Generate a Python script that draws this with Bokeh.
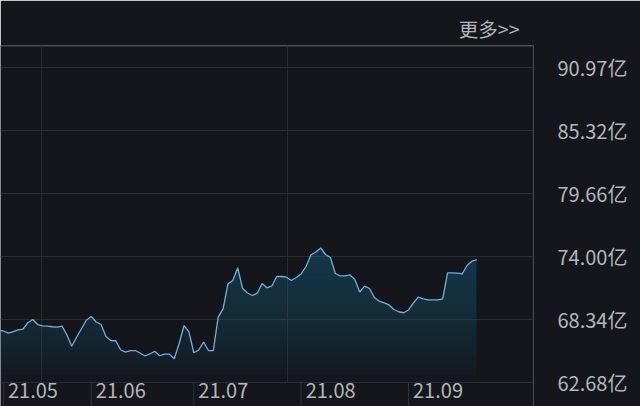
import numpy as np
from bokeh.plotting import figure
from bokeh.models import FixedTicker, Range1d
from bokeh.core.properties import value
from bokeh.embed import file_html
from bokeh.resources import INLINE

# ---- data (trading-day index, value in 亿) ----
values = [
    67.33, 67.29, 67.09, 67.24, 67.38, 67.45, 68.03, 68.32, 67.87, 67.74,
    67.72, 67.67, 67.63, 67.72, 66.93, 65.92, 66.75, 67.51, 68.28, 68.59,
    68.10, 67.87, 66.79, 66.43, 66.41, 65.60, 65.38, 65.53, 65.53, 65.31,
    65.04, 65.22, 65.47, 65.06, 65.20, 65.20, 64.79, 66.16, 67.78, 67.20,
    65.33, 65.58, 66.28, 65.53, 65.53, 68.53, 69.28, 71.53, 71.83, 72.97,
    71.11, 70.71, 70.48, 70.69, 71.56, 71.17, 71.34, 72.19, 72.19, 72.13,
    71.83, 72.10, 72.42, 73.09, 74.13, 74.40, 74.76, 74.17, 73.90, 72.46,
    72.25, 72.24, 72.33, 71.92, 70.80, 71.32, 71.11, 70.30, 69.97, 69.82,
    69.63, 69.22, 69.02, 68.93, 69.18, 69.81, 70.33, 70.17, 70.09, 70.09,
    70.09, 70.18, 72.52, 72.52, 72.49, 72.43, 73.18, 73.57, 73.72,
]
days = list(range(len(values)))

month_labels = ["21.05", "21.06", "21.07", "21.08", "21.09"]
month_start_idx = [1, 19, 40, 62, 84]

y_ticks = [62.68, 68.34, 74.00, 79.66, 85.32, 90.97]
y_tick_labels = ["62.68亿", "68.34亿", "74.00亿", "79.66亿", "85.32亿", "90.97亿"]

# ---- style / geometry ----
BG = "#14161b"
GRID = "#2a2d34"
SEP = "#30333a"
TEXT = "#b4b6ba"
LINE = "#76aedb"
FILL = "#3f6f9f"
FONT = "Noto Sans CJK SC"

W, H = 640, 406
TOP = 45            # frame top (px)
RIGHT_PAD = 107     # space for right axis
PX_PER_DAY = 4.88
PX_PER_UNIT = 11.113
X_START = 0.39
BASE_PX = 381.7     # pixel row of the lowest tick (bottom of plotting area)

y_min_tick = y_ticks[0]
frame_w = W - RIGHT_PAD
x_end = X_START + frame_w / PX_PER_DAY
y_start = y_min_tick - (H - BASE_PX) / PX_PER_UNIT
y_end = y_min_tick + (BASE_PX - TOP) / PX_PER_UNIT
y_border_top = y_min_tick + (BASE_PX - TOP - 1) / PX_PER_UNIT
x_border_right = x_end - 0.5 / PX_PER_DAY

p = figure(
    width=W, height=H,
    output_backend="svg", toolbar_location=None,
    x_range=Range1d(X_START, x_end),
    y_range=Range1d(y_start, y_end),
    y_axis_location="right",
    min_border_left=0, min_border_right=RIGHT_PAD,
    min_border_top=TOP, min_border_bottom=0,
)
p.background_fill_color = BG
p.border_fill_color = BG
p.outline_line_color = None

# "更多>>" as title
p.title.text = "更多>>"
p.title.align = "right"
p.title.offset = 14
p.title.text_font = FONT
p.title.text_font_size = "19.5px"
p.title.text_font_style = "normal"
p.title.text_color = TEXT
p.title.standoff = 5

# right y axis
yax = p.yaxis[0]
yax.ticker = FixedTicker(ticks=y_ticks)
yax.major_label_overrides = {t: s for t, s in zip(y_ticks, y_tick_labels)}
yax.major_label_text_font = FONT
yax.major_label_text_font_size = "20px"
yax.major_label_text_color = TEXT
yax.major_tick_line_color = None
yax.major_tick_out = 0
yax.major_tick_in = 0
yax.minor_tick_line_color = None
yax.axis_line_color = None
yax.major_label_standoff = 24

p.xaxis.visible = False
p.xgrid.grid_line_color = None
p.ygrid.grid_line_color = GRID

# frame borders (top and right) and vertical grid lines
grid_x = [8.8, 59.2]
p.segment(x0=[X_START], y0=[y_border_top], x1=[x_end], y1=[y_border_top],
          line_color=GRID, line_width=1)
p.segment(x0=[x_border_right], y0=[y_min_tick], x1=[x_border_right], y1=[y_end],
          line_color=GRID, line_width=1)
p.segment(x0=grid_x, y0=[y_min_tick] * len(grid_x), x1=grid_x,
          y1=[y_end] * len(grid_x), line_color=GRID, line_width=1)

# month separators and labels below the base line
p.segment(x0=month_start_idx, y0=[y_start] * len(month_start_idx),
          x1=month_start_idx, y1=[y_min_tick] * len(month_start_idx),
          line_color=SEP, line_width=1)
LABEL_SHIFT = 4.5 / PX_PER_DAY
label_base = y_min_tick - (389.5 - BASE_PX) / PX_PER_UNIT
p.text(x=[m + LABEL_SHIFT for m in month_start_idx],
       y=[label_base] * len(month_labels), text=month_labels,
       text_font=value(FONT), text_font_size="20px", text_color=TEXT,
       text_align="left", text_baseline="alphabetic")

# gradient-like fill: stacked translucent bands
vals = np.array(values)
levels = np.linspace(y_min_tick, 74.8, 22)
for lv in levels:
    top = np.maximum(vals, lv)
    p.varea(x=days, y1=lv, y2=top, fill_color=FILL, fill_alpha=0.022)

p.line(days, values, line_color=LINE, line_width=1.3)

html = file_html(p, INLINE)
html = html.replace("<body>", '<body style="background-color:%s;">' % BG, 1)
open("out.html", "w").write(html)
